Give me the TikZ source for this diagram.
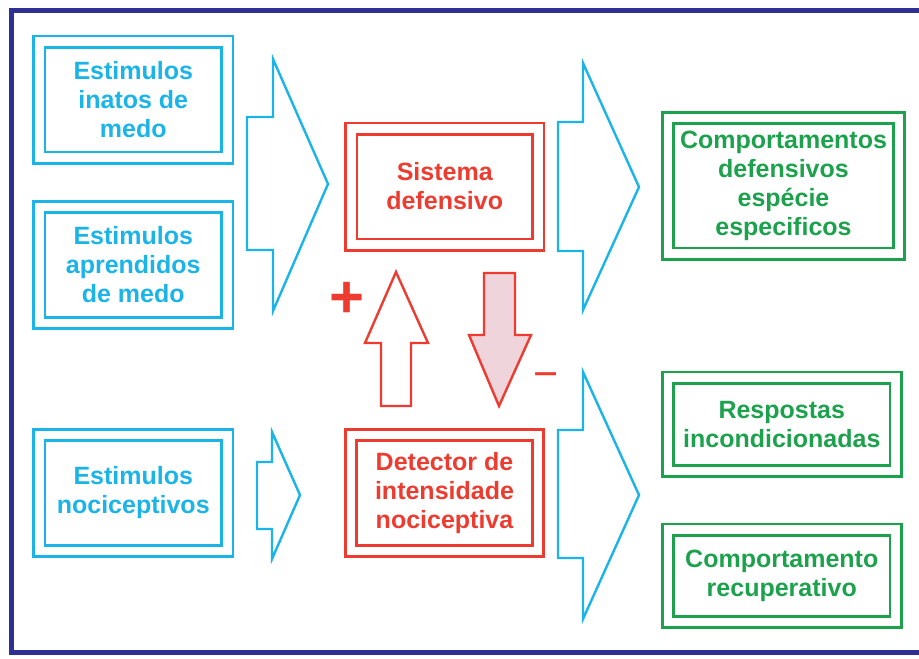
\documentclass[tikz,border=0pt]{standalone}
\usepackage{fontspec}
\setmainfont{Liberation Sans}
\definecolor{frameblue}{HTML}{2E3192}
\definecolor{cyanb}{HTML}{1AB4E8}
\definecolor{redb}{HTML}{EE3B30}
\definecolor{greenb}{HTML}{1CA14C}
\definecolor{pinkf}{HTML}{EFD5DB}
\begin{document}
\begin{tikzpicture}[x=1pt,y=-1pt,
  box/.style={draw, double, line width=2.6pt, double distance=8.8pt, align=center,
    inner sep=0pt, font=\fontsize{25}{29}\selectfont\bfseries},
  bluebox/.style={box, draw=cyanb, text=cyanb, minimum width=188pt, minimum height=116pt},
  redbox/.style={box, draw=redb, text=redb, minimum width=187pt, minimum height=116pt},
  greenbox/.style={box, draw=greenb, text=greenb, minimum width=228pt},
  bluearrow/.style={draw=cyanb, line width=2.4pt, line join=miter},
  redarrow/.style={draw=redb, line width=2.4pt, line join=miter},
  signlabel/.style={text=redb, inner sep=0pt}
]
\useasboundingbox (0,0) rectangle (919,659);
% frame
\draw[frameblue, line width=5pt] (919,10) -- (11,10) -- (11,652) -- (919,652);

% blue boxes
\node[bluebox] (inatos) at (133.25,99.5) {Estimulos\\inatos de\\medo};
\node[bluebox] (aprendidos) at (133.25,265) {Estimulos\\aprendidos\\de medo};
\node[bluebox] (noci) at (133.25,493) {Estimulos\\nociceptivos};

% red boxes
\node[redbox] (sistema) at (444.75,186.5) {Sistema\\defensivo};
\node[redbox] (detector) at (444.5,493) {Detector de\\intensidade\\nociceptiva};

% green boxes
\node[greenbox, minimum width=231pt, minimum height=135.5pt] (comport) at (783.5,185.75)
  {Comportamentos\\defensivos\\espécie\\especificos};
\node[greenbox, minimum width=227.5pt, minimum height=93.5pt] (respostas) at (781.75,424.25)
  {Respostas\\incondicionadas};
\node[greenbox, minimum width=227.5pt, minimum height=92.5pt] (recup) at (781.75,575.75)
  {Comportamento\\recuperativo};

% blue block arrows
\draw[bluearrow] (247,117) -- (273,117) -- (273,59) -- (328,184) -- (273,311)
  -- (273,250) -- (247,250) -- cycle;
\draw[bluearrow] (257,462) -- (272,462) -- (272,432) -- (300,495) -- (272,559)
  -- (272,529) -- (257,529) -- cycle;
\draw[bluearrow] (558,122) -- (583,122) -- (583,63) -- (639,187) -- (583,310)
  -- (583,251) -- (558,251) -- cycle;
\draw[bluearrow] (558,430) -- (583,430) -- (583,372) -- (639,495) -- (583,619)
  -- (583,558) -- (558,558) -- cycle;

% red block arrows
\draw[redarrow] (381,406) -- (381,343) -- (365,343) -- (396,272) -- (428,343)
  -- (411,343) -- (411,406) -- cycle;
\draw[redarrow, fill=pinkf] (484,273) -- (515,273) -- (515,335) -- (531,335)
  -- (499,406) -- (469,335) -- (484,335) -- cycle;

% signs
\node[signlabel, font=\fontsize{60}{60}\selectfont\bfseries] (plus) at (347,299.5) {+};
\node[signlabel, font=\fontsize{43}{43}\selectfont] (minus) at (546.5,381) {−};
\end{tikzpicture}
\end{document}
